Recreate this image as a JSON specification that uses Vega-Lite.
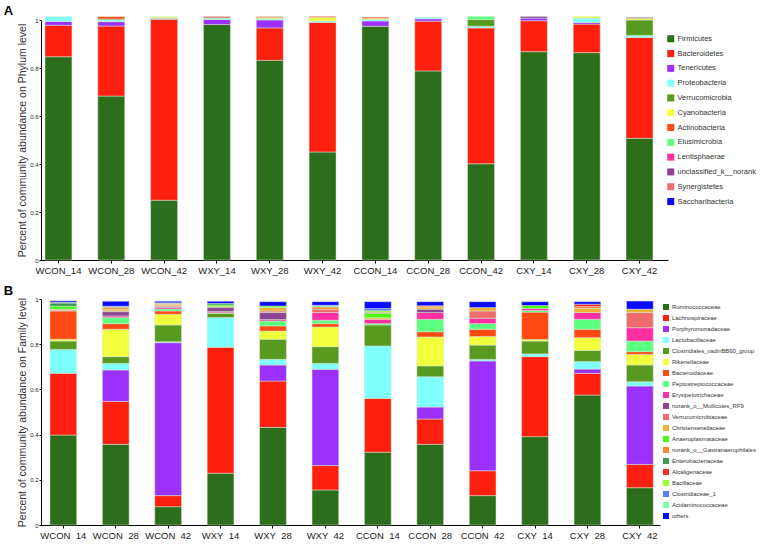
{
  "$schema": "https://vega.github.io/schema/vega-lite/v6.json",
  "background": "white",
  "padding": {"left": 3, "top": 5, "right": 0, "bottom": 0},
  "config": {
    "font": "Liberation Sans",
    "view": {"stroke": null},
    "axis": {"domainColor": "#000", "tickColor": "#000", "labelColor": "#222", "titleColor": "#333", "titleFontWeight": "normal", "grid": false},
    "legend": {"symbolType": "square", "symbolStrokeWidth": 0, "labelColor": "#333", "title": null}
  },
  "datasets": {
    "phylum": [
      {"s": "WCON_14", "t": "Firmicutes", "v": 0.847}, {"s": "WCON_14", "t": "Bacteroidetes", "v": 0.131}, {"s": "WCON_14", "t": "Tenericutes", "v": 0.016}, {"s": "WCON_14", "t": "Proteobacteria", "v": 0.020},
      {"s": "WCON_28", "t": "Firmicutes", "v": 0.683}, {"s": "WCON_28", "t": "Bacteroidetes", "v": 0.292}, {"s": "WCON_28", "t": "Tenericutes", "v": 0.018}, {"s": "WCON_28", "t": "Proteobacteria", "v": 0.008}, {"s": "WCON_28", "t": "Verrucomicrobia", "v": 0.003}, {"s": "WCON_28", "t": "Actinobacteria", "v": 0.010},
      {"s": "WCON_42", "t": "Firmicutes", "v": 0.249}, {"s": "WCON_42", "t": "Bacteroidetes", "v": 0.754}, {"s": "WCON_42", "t": "Tenericutes", "v": 0.002}, {"s": "WCON_42", "t": "Proteobacteria", "v": 0.002}, {"s": "WCON_42", "t": "Verrucomicrobia", "v": 0.002}, {"s": "WCON_42", "t": "Cyanobacteria", "v": 0.005},
      {"s": "WXY_14", "t": "Firmicutes", "v": 0.981}, {"s": "WXY_14", "t": "Tenericutes", "v": 0.021}, {"s": "WXY_14", "t": "Proteobacteria", "v": 0.006}, {"s": "WXY_14", "t": "Synergistetes", "v": 0.007},
      {"s": "WXY_28", "t": "Firmicutes", "v": 0.832}, {"s": "WXY_28", "t": "Bacteroidetes", "v": 0.135}, {"s": "WXY_28", "t": "Tenericutes", "v": 0.033}, {"s": "WXY_28", "t": "Proteobacteria", "v": 0.005}, {"s": "WXY_28", "t": "Cyanobacteria", "v": 0.005}, {"s": "WXY_28", "t": "Actinobacteria", "v": 0.004},
      {"s": "WXY_42", "t": "Firmicutes", "v": 0.450}, {"s": "WXY_42", "t": "Bacteroidetes", "v": 0.540}, {"s": "WXY_42", "t": "Proteobacteria", "v": 0.006}, {"s": "WXY_42", "t": "Cyanobacteria", "v": 0.015}, {"s": "WXY_42", "t": "Actinobacteria", "v": 0.004},
      {"s": "CCON_14", "t": "Firmicutes", "v": 0.974}, {"s": "CCON_14", "t": "Tenericutes", "v": 0.022}, {"s": "CCON_14", "t": "Proteobacteria", "v": 0.006}, {"s": "CCON_14", "t": "Cyanobacteria", "v": 0.005}, {"s": "CCON_14", "t": "Actinobacteria", "v": 0.005},
      {"s": "CCON_28", "t": "Firmicutes", "v": 0.788}, {"s": "CCON_28", "t": "Bacteroidetes", "v": 0.207}, {"s": "CCON_28", "t": "Tenericutes", "v": 0.010}, {"s": "CCON_28", "t": "Proteobacteria", "v": 0.006},
      {"s": "CCON_42", "t": "Firmicutes", "v": 0.401}, {"s": "CCON_42", "t": "Bacteroidetes", "v": 0.566}, {"s": "CCON_42", "t": "Proteobacteria", "v": 0.007}, {"s": "CCON_42", "t": "Verrucomicrobia", "v": 0.028}, {"s": "CCON_42", "t": "Elusimicrobia", "v": 0.013},
      {"s": "CXY_14", "t": "Firmicutes", "v": 0.868}, {"s": "CXY_14", "t": "Bacteroidetes", "v": 0.129}, {"s": "CXY_14", "t": "Tenericutes", "v": 0.011}, {"s": "CXY_14", "t": "unclassified_k__norank", "v": 0.007},
      {"s": "CXY_28", "t": "Firmicutes", "v": 0.864}, {"s": "CXY_28", "t": "Bacteroidetes", "v": 0.119}, {"s": "CXY_28", "t": "Tenericutes", "v": 0.007}, {"s": "CXY_28", "t": "Proteobacteria", "v": 0.018}, {"s": "CXY_28", "t": "Cyanobacteria", "v": 0.007},
      {"s": "CXY_42", "t": "Firmicutes", "v": 0.507}, {"s": "CXY_42", "t": "Bacteroidetes", "v": 0.420}, {"s": "CXY_42", "t": "Proteobacteria", "v": 0.009}, {"s": "CXY_42", "t": "Verrucomicrobia", "v": 0.064}, {"s": "CXY_42", "t": "Cyanobacteria", "v": 0.007}, {"s": "CXY_42", "t": "unclassified_k__norank", "v": 0.004}
    ],
    "family": [
      {"s": "WCON_14", "t": "Ruminococcaceae", "v": 0.398}, {"s": "WCON_14", "t": "Lachnospiraceae", "v": 0.273}, {"s": "WCON_14", "t": "Lactobacillaceae", "v": 0.106}, {"s": "WCON_14", "t": "Clostridiales_vadinBB60_group", "v": 0.037}, {"s": "WCON_14", "t": "Rikenellaceae", "v": 0.008}, {"s": "WCON_14", "t": "Bacteroidaceae", "v": 0.125}, {"s": "WCON_14", "t": "Peptostreptococcaceae", "v": 0.002}, {"s": "WCON_14", "t": "Erysipelotrichaceae", "v": 0.004}, {"s": "WCON_14", "t": "Christensenellaceae", "v": 0.002}, {"s": "WCON_14", "t": "Anaeroplasmataceae", "v": 0.013}, {"s": "WCON_14", "t": "Enterobacteriaceae", "v": 0.014}, {"s": "WCON_14", "t": "Clostridiaceae_1", "v": 0.004}, {"s": "WCON_14", "t": "others", "v": 0.006},
      {"s": "WCON_28", "t": "Ruminococcaceae", "v": 0.357}, {"s": "WCON_28", "t": "Lachnospiraceae", "v": 0.190}, {"s": "WCON_28", "t": "Porphyromonadaceae", "v": 0.139}, {"s": "WCON_28", "t": "Lactobacillaceae", "v": 0.029}, {"s": "WCON_28", "t": "Clostridiales_vadinBB60_group", "v": 0.030}, {"s": "WCON_28", "t": "Rikenellaceae", "v": 0.121}, {"s": "WCON_28", "t": "Bacteroidaceae", "v": 0.025}, {"s": "WCON_28", "t": "Peptostreptococcaceae", "v": 0.027}, {"s": "WCON_28", "t": "Erysipelotrichaceae", "v": 0.007}, {"s": "WCON_28", "t": "norank_o__Mollicutes_RF9", "v": 0.019}, {"s": "WCON_28", "t": "Verrucomicrobiaceae", "v": 0.004}, {"s": "WCON_28", "t": "Christensenellaceae", "v": 0.008}, {"s": "WCON_28", "t": "norank_o__Gastranaerophilales", "v": 0.008}, {"s": "WCON_28", "t": "Enterobacteriaceae", "v": 0.002}, {"s": "WCON_28", "t": "Clostridiaceae_1", "v": 0.002}, {"s": "WCON_28", "t": "others", "v": 0.022},
      {"s": "WCON_42", "t": "Ruminococcaceae", "v": 0.081}, {"s": "WCON_42", "t": "Lachnospiraceae", "v": 0.049}, {"s": "WCON_42", "t": "Porphyromonadaceae", "v": 0.677}, {"s": "WCON_42", "t": "Lactobacillaceae", "v": 0.004}, {"s": "WCON_42", "t": "Clostridiales_vadinBB60_group", "v": 0.074}, {"s": "WCON_42", "t": "Rikenellaceae", "v": 0.047}, {"s": "WCON_42", "t": "Bacteroidaceae", "v": 0.015}, {"s": "WCON_42", "t": "Peptostreptococcaceae", "v": 0.009}, {"s": "WCON_42", "t": "Erysipelotrichaceae", "v": 0.006}, {"s": "WCON_42", "t": "norank_o__Mollicutes_RF9", "v": 0.004}, {"s": "WCON_42", "t": "Verrucomicrobiaceae", "v": 0.004}, {"s": "WCON_42", "t": "Christensenellaceae", "v": 0.006}, {"s": "WCON_42", "t": "norank_o__Gastranaerophilales", "v": 0.005}, {"s": "WCON_42", "t": "Clostridiaceae_1", "v": 0.002}, {"s": "WCON_42", "t": "others", "v": 0.007},
      {"s": "WXY_14", "t": "Ruminococcaceae", "v": 0.229}, {"s": "WXY_14", "t": "Lachnospiraceae", "v": 0.557}, {"s": "WXY_14", "t": "Lactobacillaceae", "v": 0.132}, {"s": "WXY_14", "t": "Clostridiales_vadinBB60_group", "v": 0.019}, {"s": "WXY_14", "t": "Peptostreptococcaceae", "v": 0.002}, {"s": "WXY_14", "t": "Erysipelotrichaceae", "v": 0.006}, {"s": "WXY_14", "t": "norank_o__Mollicutes_RF9", "v": 0.019}, {"s": "WXY_14", "t": "Christensenellaceae", "v": 0.003}, {"s": "WXY_14", "t": "Anaeroplasmataceae", "v": 0.007}, {"s": "WXY_14", "t": "Enterobacteriaceae", "v": 0.006}, {"s": "WXY_14", "t": "others", "v": 0.010},
      {"s": "WXY_28", "t": "Ruminococcaceae", "v": 0.432}, {"s": "WXY_28", "t": "Lachnospiraceae", "v": 0.205}, {"s": "WXY_28", "t": "Porphyromonadaceae", "v": 0.071}, {"s": "WXY_28", "t": "Lactobacillaceae", "v": 0.025}, {"s": "WXY_28", "t": "Clostridiales_vadinBB60_group", "v": 0.089}, {"s": "WXY_28", "t": "Rikenellaceae", "v": 0.036}, {"s": "WXY_28", "t": "Bacteroidaceae", "v": 0.023}, {"s": "WXY_28", "t": "Peptostreptococcaceae", "v": 0.022}, {"s": "WXY_28", "t": "Erysipelotrichaceae", "v": 0.006}, {"s": "WXY_28", "t": "norank_o__Mollicutes_RF9", "v": 0.031}, {"s": "WXY_28", "t": "Verrucomicrobiaceae", "v": 0.007}, {"s": "WXY_28", "t": "Christensenellaceae", "v": 0.015}, {"s": "WXY_28", "t": "Anaeroplasmataceae", "v": 0.007}, {"s": "WXY_28", "t": "others", "v": 0.019},
      {"s": "WXY_42", "t": "Ruminococcaceae", "v": 0.155}, {"s": "WXY_42", "t": "Lachnospiraceae", "v": 0.108}, {"s": "WXY_42", "t": "Porphyromonadaceae", "v": 0.426}, {"s": "WXY_42", "t": "Lactobacillaceae", "v": 0.026}, {"s": "WXY_42", "t": "Clostridiales_vadinBB60_group", "v": 0.074}, {"s": "WXY_42", "t": "Rikenellaceae", "v": 0.087}, {"s": "WXY_42", "t": "Bacteroidaceae", "v": 0.015}, {"s": "WXY_42", "t": "Peptostreptococcaceae", "v": 0.015}, {"s": "WXY_42", "t": "Erysipelotrichaceae", "v": 0.034}, {"s": "WXY_42", "t": "Verrucomicrobiaceae", "v": 0.015}, {"s": "WXY_42", "t": "norank_o__Gastranaerophilales", "v": 0.010}, {"s": "WXY_42", "t": "Acidaminococcaceae", "v": 0.007}, {"s": "WXY_42", "t": "others", "v": 0.016},
      {"s": "CCON_14", "t": "Ruminococcaceae", "v": 0.322}, {"s": "CCON_14", "t": "Lachnospiraceae", "v": 0.238}, {"s": "CCON_14", "t": "Lactobacillaceae", "v": 0.232}, {"s": "CCON_14", "t": "Clostridiales_vadinBB60_group", "v": 0.093}, {"s": "CCON_14", "t": "Peptostreptococcaceae", "v": 0.006}, {"s": "CCON_14", "t": "Erysipelotrichaceae", "v": 0.019}, {"s": "CCON_14", "t": "Christensenellaceae", "v": 0.007}, {"s": "CCON_14", "t": "Anaeroplasmataceae", "v": 0.020}, {"s": "CCON_14", "t": "Alcaligenaceae", "v": 0.004}, {"s": "CCON_14", "t": "Bacillaceae", "v": 0.007}, {"s": "CCON_14", "t": "Clostridiaceae_1", "v": 0.010}, {"s": "CCON_14", "t": "others", "v": 0.030},
      {"s": "CCON_28", "t": "Ruminococcaceae", "v": 0.357}, {"s": "CCON_28", "t": "Lachnospiraceae", "v": 0.112}, {"s": "CCON_28", "t": "Porphyromonadaceae", "v": 0.053}, {"s": "CCON_28", "t": "Lactobacillaceae", "v": 0.134}, {"s": "CCON_28", "t": "Clostridiales_vadinBB60_group", "v": 0.048}, {"s": "CCON_28", "t": "Rikenellaceae", "v": 0.128}, {"s": "CCON_28", "t": "Bacteroidaceae", "v": 0.023}, {"s": "CCON_28", "t": "Peptostreptococcaceae", "v": 0.055}, {"s": "CCON_28", "t": "Erysipelotrichaceae", "v": 0.030}, {"s": "CCON_28", "t": "norank_o__Mollicutes_RF9", "v": 0.015}, {"s": "CCON_28", "t": "Christensenellaceae", "v": 0.010}, {"s": "CCON_28", "t": "norank_o__Gastranaerophilales", "v": 0.005}, {"s": "CCON_28", "t": "others", "v": 0.018},
      {"s": "CCON_42", "t": "Ruminococcaceae", "v": 0.130}, {"s": "CCON_42", "t": "Lachnospiraceae", "v": 0.110}, {"s": "CCON_42", "t": "Porphyromonadaceae", "v": 0.486}, {"s": "CCON_42", "t": "Lactobacillaceae", "v": 0.007}, {"s": "CCON_42", "t": "Clostridiales_vadinBB60_group", "v": 0.063}, {"s": "CCON_42", "t": "Rikenellaceae", "v": 0.038}, {"s": "CCON_42", "t": "Bacteroidaceae", "v": 0.032}, {"s": "CCON_42", "t": "Peptostreptococcaceae", "v": 0.025}, {"s": "CCON_42", "t": "Erysipelotrichaceae", "v": 0.024}, {"s": "CCON_42", "t": "Verrucomicrobiaceae", "v": 0.032}, {"s": "CCON_42", "t": "Christensenellaceae", "v": 0.015}, {"s": "CCON_42", "t": "others", "v": 0.026},
      {"s": "CXY_14", "t": "Ruminococcaceae", "v": 0.391}, {"s": "CXY_14", "t": "Lachnospiraceae", "v": 0.354}, {"s": "CXY_14", "t": "Lactobacillaceae", "v": 0.012}, {"s": "CXY_14", "t": "Clostridiales_vadinBB60_group", "v": 0.057}, {"s": "CXY_14", "t": "Rikenellaceae", "v": 0.007}, {"s": "CXY_14", "t": "Bacteroidaceae", "v": 0.121}, {"s": "CXY_14", "t": "Peptostreptococcaceae", "v": 0.007}, {"s": "CXY_14", "t": "Erysipelotrichaceae", "v": 0.009}, {"s": "CXY_14", "t": "Anaeroplasmataceae", "v": 0.013}, {"s": "CXY_14", "t": "others", "v": 0.017},
      {"s": "CXY_28", "t": "Ruminococcaceae", "v": 0.575}, {"s": "CXY_28", "t": "Lachnospiraceae", "v": 0.096}, {"s": "CXY_28", "t": "Porphyromonadaceae", "v": 0.019}, {"s": "CXY_28", "t": "Lactobacillaceae", "v": 0.033}, {"s": "CXY_28", "t": "Clostridiales_vadinBB60_group", "v": 0.050}, {"s": "CXY_28", "t": "Rikenellaceae", "v": 0.056}, {"s": "CXY_28", "t": "Bacteroidaceae", "v": 0.037}, {"s": "CXY_28", "t": "Peptostreptococcaceae", "v": 0.044}, {"s": "CXY_28", "t": "Erysipelotrichaceae", "v": 0.030}, {"s": "CXY_28", "t": "Christensenellaceae", "v": 0.018}, {"s": "CXY_28", "t": "norank_o__Gastranaerophilales", "v": 0.008}, {"s": "CXY_28", "t": "Alcaligenaceae", "v": 0.011}, {"s": "CXY_28", "t": "others", "v": 0.011},
      {"s": "CXY_42", "t": "Ruminococcaceae", "v": 0.165}, {"s": "CXY_42", "t": "Lachnospiraceae", "v": 0.103}, {"s": "CXY_42", "t": "Porphyromonadaceae", "v": 0.347}, {"s": "CXY_42", "t": "Lactobacillaceae", "v": 0.019}, {"s": "CXY_42", "t": "Clostridiales_vadinBB60_group", "v": 0.074}, {"s": "CXY_42", "t": "Rikenellaceae", "v": 0.047}, {"s": "CXY_42", "t": "Bacteroidaceae", "v": 0.012}, {"s": "CXY_42", "t": "Peptostreptococcaceae", "v": 0.047}, {"s": "CXY_42", "t": "Erysipelotrichaceae", "v": 0.059}, {"s": "CXY_42", "t": "Verrucomicrobiaceae", "v": 0.067}, {"s": "CXY_42", "t": "Christensenellaceae", "v": 0.015}, {"s": "CXY_42", "t": "others", "v": 0.036}
    ]
  },
  "vconcat": [
    {
      "title": {"text": "A", "anchor": "start", "frame": "bounds", "fontSize": 13, "fontWeight": "bold", "color": "#000", "offset": -2, "dx": -14},
      "width": 627,
      "height": 240,
      "data": {"name": "phylum"},
      "transform": [{"calculate": "indexof(['Firmicutes','Bacteroidetes','Tenericutes','Proteobacteria','Verrucomicrobia','Cyanobacteria','Actinobacteria','Elusimicrobia','Lentisphaerae','unclassified_k__norank','Synergistetes','Saccharibacteria'], datum.t)", "as": "k"}],
      "mark": {"type": "bar", "stroke": "#d5e6cf", "strokeWidth": 0.5},
      "encoding": {
        "x": {"field": "s", "type": "nominal", "sort": ["WCON_14","WCON_28","WCON_42","WXY_14","WXY_28","WXY_42","CCON_14","CCON_28","CCON_42","CXY_14","CXY_28","CXY_42"],
              "scale": {"paddingInner": 0.49, "paddingOuter": 0.18, "align": 0.21},
              "axis": {"title": null, "labelAngle": 0, "labelFontSize": 9.5, "tickSize": 3, "labelPadding": 2}},
        "y": {"field": "v", "type": "quantitative", "stack": "zero", "scale": {"domain": [0, 1], "nice": false},
              "axis": {"title": "Percent of community abundance on Phylum level", "values": [0, 0.2, 0.4, 0.6, 0.8, 1], "format": "~g", "labelFontSize": 6, "tickSize": 2, "labelPadding": 1, "titleFontSize": 10.5, "titlePadding": 2}},
        "color": {"field": "t", "type": "nominal",
                  "scale": {"domain": ["Firmicutes","Bacteroidetes","Tenericutes","Proteobacteria","Verrucomicrobia","Cyanobacteria","Actinobacteria","Elusimicrobia","Lentisphaerae","unclassified_k__norank","Synergistetes","Saccharibacteria"],
                            "range": ["#2C6E1B","#FF1F0F","#9B30FF","#80FFFF","#58991F","#F2FF3D","#FF4A14","#5CFF80","#FF2FA3","#8B4593","#F06B6E","#0A0AFF"]},
                  "legend": {"orient": "right", "offset": -16, "padding": 15, "labelFontSize": 7.5, "symbolSize": 49, "rowPadding": 5.8, "labelOffset": 3}},
        "order": {"field": "k", "type": "quantitative", "sort": "ascending"}
      }
    },
    {
      "title": {"text": "B", "anchor": "start", "frame": "bounds", "fontSize": 13, "fontWeight": "bold", "color": "#000", "offset": -2, "dx": -14},
      "width": 619,
      "height": 226,
      "data": {"name": "family"},
      "transform": [{"calculate": "indexof(['Ruminococcaceae','Lachnospiraceae','Porphyromonadaceae','Lactobacillaceae','Clostridiales_vadinBB60_group','Rikenellaceae','Bacteroidaceae','Peptostreptococcaceae','Erysipelotrichaceae','norank_o__Mollicutes_RF9','Verrucomicrobiaceae','Christensenellaceae','Anaeroplasmataceae','norank_o__Gastranaerophilales','Enterobacteriaceae','Alcaligenaceae','Bacillaceae','Clostridiaceae_1','Acidaminococcaceae','others'], datum.t)", "as": "k"}],
      "mark": {"type": "bar", "stroke": "#d5e6cf", "strokeWidth": 0.5},
      "encoding": {
        "x": {"field": "s", "type": "nominal", "sort": ["WCON_14","WCON_28","WCON_42","WXY_14","WXY_28","WXY_42","CCON_14","CCON_28","CCON_42","CXY_14","CXY_28","CXY_42"],
              "scale": {"paddingInner": 0.49, "paddingOuter": 0.15, "align": 0.57},
              "axis": {"title": null, "labelAngle": 0, "labelFontSize": 9.5, "tickSize": 3, "labelPadding": 2}},
        "y": {"field": "v", "type": "quantitative", "stack": "zero", "scale": {"domain": [0, 1], "nice": false},
              "axis": {"title": "Percent of community abundance on Family level", "values": [0, 0.2, 0.4, 0.6, 0.8, 1], "format": "~g", "labelFontSize": 6, "tickSize": 2, "labelPadding": 1, "titleFontSize": 10.5, "titlePadding": 2}},
        "color": {"field": "t", "type": "nominal",
                  "scale": {"domain": ["Ruminococcaceae","Lachnospiraceae","Porphyromonadaceae","Lactobacillaceae","Clostridiales_vadinBB60_group","Rikenellaceae","Bacteroidaceae","Peptostreptococcaceae","Erysipelotrichaceae","norank_o__Mollicutes_RF9","Verrucomicrobiaceae","Christensenellaceae","Anaeroplasmataceae","norank_o__Gastranaerophilales","Enterobacteriaceae","Alcaligenaceae","Bacillaceae","Clostridiaceae_1","Acidaminococcaceae","others"],
                            "range": ["#2C6E1B","#FF1F0F","#9B30FF","#80FFFF","#58991F","#F2FF3D","#FF4A14","#5CFF80","#FF2FA3","#8B4593","#F06B6E","#F0B235","#44FF11","#FF8433","#3A9A4E","#F52B2B","#99FF33","#5F82F2","#80FFB2","#0A0AFF"]},
                  "legend": {"orient": "right", "offset": -2, "padding": 5, "labelFontSize": 5.9, "symbolSize": 36, "rowPadding": 5, "labelOffset": 3}},
        "order": {"field": "k", "type": "quantitative", "sort": "ascending"}
      }
    }
  ],
  "spacing": 10,
  "resolve": {"scale": {"color": "independent", "x": "independent", "y": "independent"}, "legend": {"color": "independent"}}
}
